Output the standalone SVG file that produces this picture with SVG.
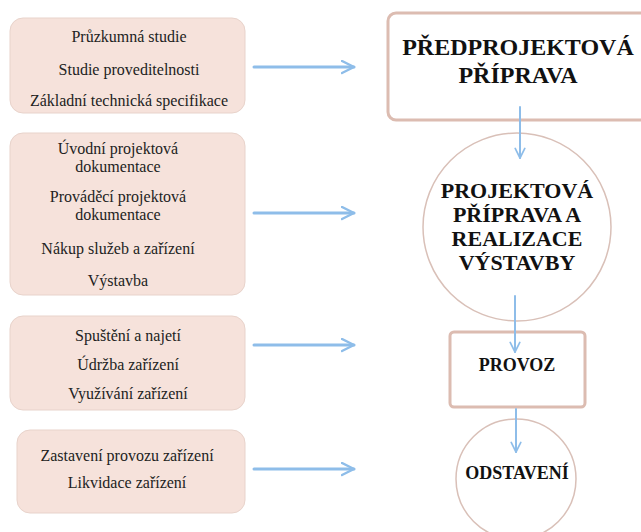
<svg xmlns="http://www.w3.org/2000/svg" width="641" height="532" viewBox="0 0 641 532">
<defs>
<style>
.box{fill:#f6e2db;stroke:#e8d3cb;stroke-width:1}
.t{font-family:'Liberation Serif','Times New Roman',serif;font-size:16px;fill:#222;text-anchor:middle;dominant-baseline:central}
.h{font-family:'Liberation Serif','Times New Roman',serif;font-weight:bold;font-size:24px;fill:#111;text-anchor:middle;dominant-baseline:central}
.hc{font-family:'Liberation Serif','Times New Roman',serif;font-weight:bold;font-size:22px;fill:#111;text-anchor:middle;dominant-baseline:central}
.hs{font-family:'Liberation Serif','Times New Roman',serif;font-weight:bold;font-size:18px;fill:#111;text-anchor:middle;dominant-baseline:central}
.node{fill:#fff;stroke:#dcbcb1;stroke-width:3}
.circ{fill:#fff;stroke:#d9c0b8;stroke-width:1.5}
.arr{stroke:#8ebde9;stroke-width:3;fill:none;stroke-linecap:round}
.varr{stroke:#8ebde9;stroke-width:2;fill:none;stroke-linecap:round}
</style>
<marker id="ah" viewBox="0 0 10 10" refX="9" refY="5" markerWidth="5" markerHeight="5" orient="auto" markerUnits="strokeWidth">
<path d="M1,1 L9,5 L1,9" fill="none" stroke="#8ebde9" stroke-width="1.6" stroke-linecap="round" stroke-linejoin="round"/>
</marker>
<marker id="vh" viewBox="0 0 10 10" refX="9" refY="5" markerWidth="6" markerHeight="6" orient="auto" markerUnits="strokeWidth">
<path d="M1,1 L9,5 L1,9" fill="none" stroke="#8ebde9" stroke-width="1.4" stroke-linecap="round" stroke-linejoin="round"/>
</marker>
</defs>
<rect width="641" height="532" fill="#fff"/>
<g id="box1">
<rect class="box" x="10" y="18" width="235" height="95" rx="13"/>
<text class="t" x="129" y="36">Průzkumná studie</text>
<text class="t" x="129" y="69">Studie proveditelnosti</text>
<text class="t" x="129" y="100">Základní technická specifikace</text>
</g>
<g id="box2">
<rect class="box" x="10" y="133" width="235" height="162" rx="13"/>
<text class="t" x="118" y="148">Úvodní projektová</text>
<text class="t" x="118" y="166">dokumentace</text>
<text class="t" x="118" y="196">Prováděcí projektová</text>
<text class="t" x="118" y="214">dokumentace</text>
<text class="t" x="118" y="248">Nákup služeb a zařízení</text>
<text class="t" x="118" y="280">Výstavba</text>
</g>
<g id="box3">
<rect class="box" x="10" y="316" width="235" height="94" rx="13"/>
<text class="t" x="128" y="335">Spuštění a najetí</text>
<text class="t" x="128" y="364">Údržba zařízení</text>
<text class="t" x="128" y="393">Využívání zařízení</text>
</g>
<g id="box4">
<rect class="box" x="17" y="430" width="228" height="83" rx="13"/>
<text class="t" x="127" y="455">Zastavení provozu zařízení</text>
<text class="t" x="127" y="482">Likvidace zařízení</text>
</g>
<g id="n1">
<rect class="node" x="388" y="13" width="262" height="107" rx="8"/>
<text class="h" x="518" y="47">PŘEDPROJEKTOVÁ</text>
<text class="h" x="518" y="75">PŘÍPRAVA</text>
</g>
<g id="n2">
<circle class="circ" cx="517" cy="227" r="94"/>
<text class="hc" x="517" y="190">PROJEKTOVÁ</text>
<text class="hc" x="517" y="214">PŘÍPRAVA A</text>
<text class="hc" x="517" y="238">REALIZACE</text>
<text class="hc" x="517" y="262">VÝSTAVBY</text>
</g>
<g id="n3">
<rect class="node" x="450" y="332" width="135" height="75" rx="4"/>
<text class="hs" x="517" y="365">PROVOZ</text>
</g>
<g id="n4">
<circle class="circ" cx="516" cy="479" r="60"/>
<text class="hs" x="517" y="473">ODSTAVENÍ</text>
</g>
<g id="connectors">
<line class="arr" x1="254" y1="67" x2="354" y2="67" marker-end="url(#ah)"/>
<line class="arr" x1="254" y1="213" x2="354" y2="213" marker-end="url(#ah)"/>
<line class="arr" x1="254" y1="345" x2="354" y2="345" marker-end="url(#ah)"/>
<line class="arr" x1="254" y1="469" x2="354" y2="469" marker-end="url(#ah)"/>
<line class="varr" x1="520" y1="107" x2="520" y2="158" marker-end="url(#vh)"/>
<line class="varr" x1="515" y1="296" x2="515" y2="352" marker-end="url(#vh)"/>
<line class="varr" x1="516" y1="409" x2="516" y2="452" marker-end="url(#vh)"/>
</g>
</svg>
